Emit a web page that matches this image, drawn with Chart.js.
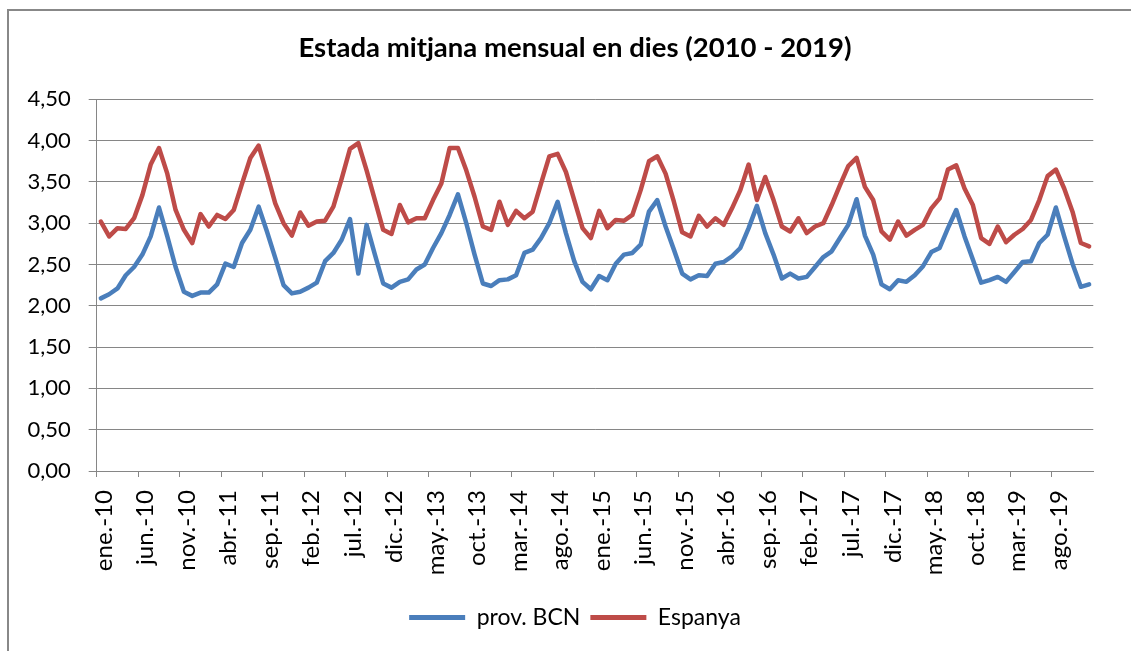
<!DOCTYPE html>
<html>
<head>
<meta charset="utf-8">
<script src="https://cdn.jsdelivr.net/npm/chart.js@4"></script>
<style>
    body { margin: 0; overflow: hidden; background: #fff; }
    #frame { position: absolute; left: 7px; top: 9px; width: 1140px; height: 660px; border: 2px solid #888; }
    #chart { position: absolute; left: 0; top: 0; }
</style>
</head>
<body>
<div id="frame"></div>
<canvas id="chart" width="1131" height="651"></canvas>
<script>
/* data, monthly 2010 - 2019 */
var months = ['ene.', 'feb.', 'mar.', 'abr.', 'may.', 'jun.', 'jul.', 'ago.', 'sep.', 'oct.', 'nov.', 'dic.'];
var years = ['10', '11', '12', '13', '14', '15', '16', '17', '18', '19'];

var provBCN = [
    2.09, 2.14, 2.21, 2.37, 2.47, 2.62, 2.84, 3.19, 2.84, 2.47,
    2.17, 2.12, 2.16, 2.16, 2.26, 2.51, 2.47, 2.76, 2.92, 3.20,
    2.90, 2.58, 2.25, 2.15, 2.17, 2.22, 2.28, 2.54, 2.64, 2.80,
    3.05, 2.39, 2.98, 2.62, 2.27, 2.22, 2.29, 2.32, 2.44, 2.50,
    2.70, 2.88, 3.10, 3.35, 3.00, 2.62, 2.27, 2.24, 2.31, 2.32,
    2.37, 2.64, 2.68, 2.82, 3.00, 3.26, 2.88, 2.54, 2.29, 2.20,
    2.36, 2.31, 2.51, 2.62, 2.64, 2.74, 3.14, 3.28, 2.96, 2.68,
    2.39, 2.32, 2.37, 2.36, 2.51, 2.53, 2.60, 2.70, 2.94, 3.21,
    2.88, 2.62, 2.33, 2.39, 2.33, 2.35, 2.47, 2.59, 2.66, 2.82,
    2.98, 3.29, 2.85, 2.62, 2.26, 2.20, 2.31, 2.29, 2.37, 2.48,
    2.65, 2.70, 2.94, 3.16, 2.84, 2.56, 2.28, 2.31, 2.35, 2.29,
    2.41, 2.53, 2.54, 2.76, 2.86, 3.19, 2.84, 2.51, 2.23, 2.26
];

var espanya = [
    3.02, 2.84, 2.94, 2.93, 3.06, 3.34, 3.71, 3.91, 3.60, 3.16,
    2.92, 2.76, 3.11, 2.96, 3.10, 3.05, 3.16, 3.48, 3.79, 3.94,
    3.60, 3.24, 3.00, 2.85, 3.13, 2.97, 3.02, 3.03, 3.20, 3.54,
    3.90, 3.97, 3.64, 3.28, 2.92, 2.87, 3.22, 3.01, 3.06, 3.06,
    3.28, 3.48, 3.91, 3.91, 3.64, 3.32, 2.96, 2.92, 3.26, 2.98,
    3.15, 3.06, 3.14, 3.48, 3.81, 3.84, 3.62, 3.28, 2.94, 2.82,
    3.15, 2.94, 3.04, 3.03, 3.10, 3.40, 3.75, 3.81, 3.60, 3.26,
    2.89, 2.84, 3.09, 2.96, 3.06, 2.98, 3.18, 3.40, 3.71, 3.28,
    3.56, 3.28, 2.96, 2.90, 3.06, 2.88, 2.96, 3.00, 3.22, 3.46,
    3.69, 3.79, 3.44, 3.28, 2.90, 2.80, 3.02, 2.85, 2.92, 2.98,
    3.18, 3.30, 3.65, 3.70, 3.42, 3.22, 2.82, 2.75, 2.96, 2.77,
    2.86, 2.93, 3.04, 3.28, 3.57, 3.65, 3.42, 3.14, 2.76, 2.72
];

var labels = [];
years.forEach(y => months.forEach(m => labels.push(m + '-' + y)));

var gridColor = '#868686';
var font = 'Lato';

var ctx = document.getElementById('chart').getContext('2d');
var chart = new Chart(ctx, {
    type: 'line',
    data: {
        labels: labels,
        datasets: [
            {
                label: 'prov. BCN',
                data: provBCN,
                borderColor: '#4a7ebb',
                backgroundColor: '#4a7ebb',
                borderWidth: 4.5,
                pointRadius: 0,
                tension: 0,
                borderJoinStyle: 'round',
                borderCapStyle: 'round'
            },
            {
                label: 'Espanya',
                data: espanya,
                borderColor: '#be4b48',
                backgroundColor: '#be4b48',
                borderWidth: 4.5,
                pointRadius: 0,
                tension: 0,
                borderJoinStyle: 'round',
                borderCapStyle: 'round'
            }
        ]
    },
    options: {
        responsive: false,
        animation: false,
        layout: { padding: { left: 19, right: 0, top: 0, bottom: 12 } },
        plugins: {
            title: {
                display: true,
                text: 'Estada mitjana mensual en dies (2010 - 2019)',
                color: '#000',
                font: { family: font, size: 27.5, weight: 'bold' },
                padding: { top: 31.5, bottom: 34.8 }
            },
            legend: {
                position: 'bottom',
                labels: {
                    color: '#000',
                    font: { family: font, size: 23 },
                    boxWidth: 56,
                    boxHeight: 5,
                    padding: 10,
                    generateLabels: function (c) {
                        return Chart.defaults.plugins.legend.labels.generateLabels(c).map(l => {
                            l.lineWidth = 0;
                            l.fillStyle = l.strokeStyle;
                            return l;
                        });
                    }
                }
            },
            tooltip: { enabled: false }
        },
        scales: {
            x: {
                offset: true,
                grid: {
                    offset: true,
                    drawOnChartArea: false,
                    drawTicks: true,
                    tickLength: 6,
                    color: c => (c.index % 5 === 0 ? gridColor : 'rgba(0,0,0,0)')
                },
                border: { color: gridColor, width: 1 },
                ticks: {
                    autoSkip: false,
                    maxRotation: 90,
                    minRotation: 90,
                    padding: 13,
                    labelOffset: 3,
                    color: '#000',
                    font: { family: font, size: 24 },
                    callback: function (v, i) { return i % 5 === 0 ? labels[i] : ''; }
                },
                afterFit: function (scale) { scale.height = 125; }
            },
            y: {
                min: 0,
                max: 4.5,
                grid: { color: gridColor, tickLength: 8 },
                border: { color: gridColor, width: 1 },
                ticks: {
                    stepSize: 0.5,
                    padding: 18,
                    color: '#000',
                    font: { family: font, size: 22 },
                    callback: function (v) { return v.toFixed(2).replace('.', ','); }
                },
                afterFit: function (scale) { scale.width = 77.7; }
            },
            // empty strip on the right so the title and legend centre like the original
            y2: {
                type: 'linear',
                position: 'right',
                grid: { display: false, drawTicks: false },
                border: { display: false },
                ticks: { display: false },
                afterFit: function (scale) { scale.width = 19; }
            }
        }
    }
});
</script>
</body>
</html>
